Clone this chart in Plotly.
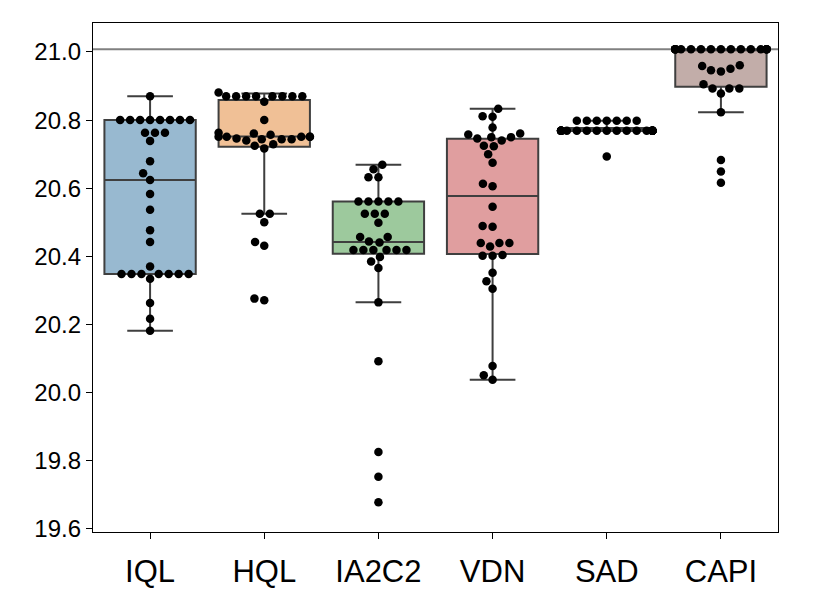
import numpy as np
import plotly.graph_objects as go

# algorithms on the x axis
algorithms = ["IQL", "HQL", "IA2C2", "VDN", "SAD", "CAPI"]

# final scores per run
iql_scores = [20.870] + [20.800] * 8 + [20.763] * 3 + [20.739, 20.679, 20.644, 20.624, 20.583,
              20.537, 20.477, 20.442, 20.370] + [20.348] * 7 + [20.334, 20.263, 20.217, 20.182]
hql_scores = [20.881] + [20.870] * 8 + [20.854, 20.800, 20.763, 20.761, 20.757] + [20.751] * 5 + \
             [20.746] + [20.744] * 3 + [20.740, 20.729, 20.725, 20.717, 20.525, 20.525, 20.500,
                                        20.442, 20.431, 20.276, 20.271]
ia2c2_scores = [20.669, 20.656, 20.632, 20.632] + [20.561] * 5 + [20.525] * 3 + \
               [20.499, 20.457, 20.457, 20.444, 20.441] + [20.419] * 6 + \
               [20.398, 20.385, 20.366, 20.265, 20.092, 19.826, 19.753, 19.678]
vdn_scores = [20.833, 20.811, 20.810, 20.778, 20.761, 20.758, 20.750, 20.750, 20.746, 20.740,
              20.725, 20.723, 20.700, 20.675, 20.613, 20.606, 20.546, 20.489, 20.487, 20.439,
              20.439, 20.439, 20.429, 20.404, 20.402, 20.402, 20.352, 20.327, 20.305, 20.078,
              20.051, 20.038]
sad_scores = [20.798] * 7 + [20.769] * 24 + [20.693]
capi_scores = [21.008] * 18 + [20.961, 20.959, 20.951, 20.946, 20.943, 20.905, 20.893, 20.893,
                               20.893, 20.878, 20.823, 20.683, 20.649, 20.616]

# box statistics as drawn
q1 = [20.348, 20.722, 20.408, 20.407, 20.768, 20.898]
median = [20.624, 20.752, 20.442, 20.577, 20.769, 21.008]
q3 = [20.800, 20.859, 20.561, 20.745, 20.777, 21.008]
lower = [20.182, 20.525, 20.265, 20.038, 20.768, 20.823]
upper = [20.870, 20.878, 20.669, 20.833, 20.798, 21.008]

optimum = 21.008

box_colors = ["#98b9d0", "#f0c096", "#9dc99d", "#e09e9f", "#c9b9d8", "#c2ada9"]

# page body adds 8px, so the figure is a bit smaller than the window
W, H = 822, 600
ML, MR, MT, MB = 85, 52, 15, 76
y_range = [19.591, 21.085]
px_per_unit = (H - MT - MB) / (y_range[1] - y_range[0])
px_per_cat = (W - ML - MR) / 6.0


def swarm(values, r=4.75, half_width=0.4 * px_per_cat):
    # seaborn-style beeswarm, computed in pixels
    vals = np.asarray(values, dtype=float)
    order = np.argsort(vals, kind="stable")
    offs = np.zeros(len(vals))
    placed = []
    for idx in order:
        y = vals[idx] * px_per_unit
        neighbors = [(px, py) for px, py in reversed(placed) if abs(y - py) < 2 * r]
        cands = [0.0]
        left_first = True
        for px, py in neighbors:
            dx = np.sqrt(max((2 * r) ** 2 - (y - py) ** 2, 0)) * 1.05
            cands += [px - dx, px + dx] if left_first else [px + dx, px - dx]
            left_first = not left_first
        cands.sort(key=abs)
        pick = cands[0]
        for c in cands:
            if all((c - px) ** 2 + (y - py) ** 2 >= (2 * r) ** 2 - 1e-9 for px, py in neighbors):
                pick = c
                break
        placed.append((pick, y))
        offs[idx] = pick
    offs = np.clip(offs, -half_width, half_width)
    return offs / px_per_cat


all_scores = [iql_scores, hql_scores, ia2c2_scores, vdn_scores, sad_scores, capi_scores]

fig = go.Figure()
for i, name in enumerate(algorithms):
    fig.add_trace(go.Box(
        x=[i], q1=[q1[i]], median=[median[i]], q3=[q3[i]],
        lowerfence=[lower[i]], upperfence=[upper[i]],
        width=0.8, whiskerwidth=0.5,
        fillcolor=box_colors[i],
        line=dict(color="#3f3f3f", width=2),
        boxpoints=False, hoverinfo="skip", showlegend=False
    ))

for i, scores in enumerate(all_scores):
    fig.add_trace(go.Scatter(
        x=i + swarm(scores), y=scores, mode="markers",
        marker=dict(color="black", size=8.5, line=dict(width=0)),
        showlegend=False
    ))

fig.add_shape(type="line", xref="paper", x0=0, x1=1, y0=optimum, y1=optimum,
              line=dict(color="#808080", width=2), layer="below")

fig.update_xaxes(
    range=[-0.5, 5.5], tickmode="array", tickvals=list(range(6)), ticktext=algorithms,
    showline=True, linecolor="black", linewidth=1.3, mirror=True,
    ticks="outside", ticklen=6, tickwidth=1.3, tickcolor="black",
    showgrid=False, zeroline=False, tickfont=dict(size=31), ticklabelstandoff=6
)
fig.update_yaxes(
    range=y_range, tickvals=[19.6, 19.8, 20.0, 20.2, 20.4, 20.6, 20.8, 21.0],
    ticktext=["19.6", "19.8", "20.0", "20.2", "20.4", "20.6", "20.8", "21.0"],
    showline=True, linecolor="black", linewidth=1.3, mirror=True,
    ticks="outside", ticklen=6, tickwidth=1.3, tickcolor="black",
    showgrid=False, zeroline=False, tickfont=dict(size=24)
)
fig.update_layout(
    width=W, height=H,
    margin=dict(l=ML, r=MR, t=MT, b=MB),
    font=dict(family="Liberation Sans, Arial, sans-serif", color="black"),
    plot_bgcolor="white", paper_bgcolor="white",
    boxmode="overlay"
)
fig.write_html("out.html")
